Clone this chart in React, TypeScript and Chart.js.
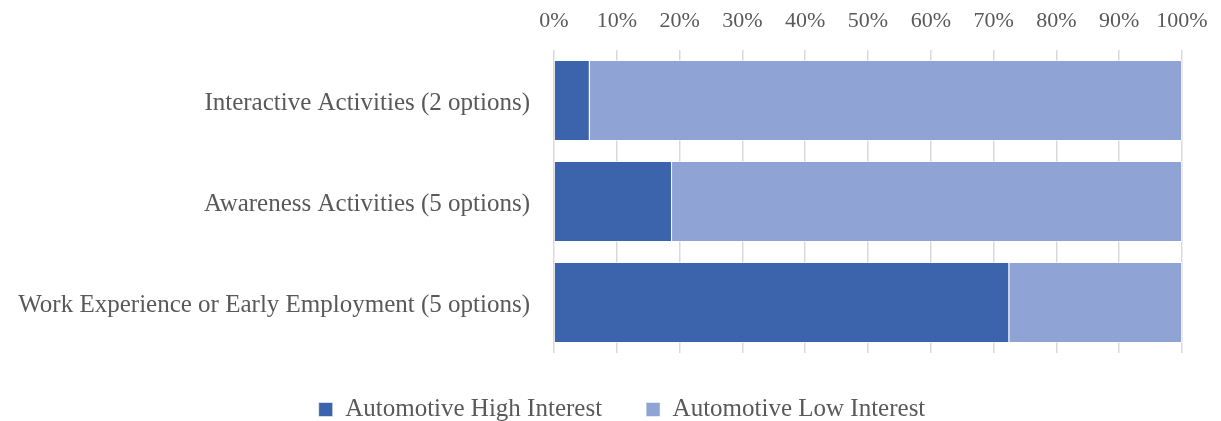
import React, { useEffect, useRef } from "react";
import { Chart, registerables } from "chart.js";

Chart.register(...registerables);

const categories = [
  "Interactive Activities (2 options)",
  "Awareness Activities (5 options)",
  "Work Experience or Early Employment (5 options)",
];
const highInterest = [5.7, 18.8, 72.5];
const lowInterest = [94.3, 81.2, 27.5];
const seriesNames = ["Automotive High Interest", "Automotive Low Interest"];
const xTicks = [0, 10, 20, 30, 40, 50, 60, 70, 80, 90, 100];

const FONT = "'Liberation Serif', 'Times New Roman', serif";
const TEXT = "#595959";

const shiftLegend = {
  id: "shiftLegend",
  afterLayout(chart: any) {
    if (chart.legend) chart.legend.left += 62;
  },
};

export default function App() {
  const ref = useRef<HTMLCanvasElement | null>(null);
  useEffect(() => {
    document.body.style.margin = "0";
    const canvas = ref.current;
    if (!canvas) return;
    const chart = new Chart(canvas, {
      type: "bar",
      data: {
        labels: categories,
        datasets: [
          {
            label: seriesNames[0],
            data: highInterest,
            backgroundColor: "#3C64AD",
            borderColor: "rgba(255,255,255,0.55)",
            borderWidth: 1,
          },
          {
            label: seriesNames[1],
            data: lowInterest,
            backgroundColor: "#8FA3D4",
            borderColor: "rgba(255,255,255,0.55)",
            borderWidth: 1,
          },
        ],
      },
      plugins: [shiftLegend],
      options: {
        indexAxis: "y",
        responsive: false,
        animation: false,
        layout: { padding: { left: 0, right: 39, top: 0, bottom: 0 } },
        datasets: { bar: { categoryPercentage: 1, barPercentage: 0.8 } },
        scales: {
          x: {
            position: "top",
            stacked: true,
            min: 0,
            max: 100,
            afterBuildTicks: (s: any) => {
              s.ticks = xTicks.map((v) => ({ value: v }));
            },
            afterFit: (s: any) => {
              s.height = 50;
              s.paddingRight = 0;
              s.paddingLeft = 0;
            },
            ticks: {
              callback: (v: any) => v + "%",
              color: TEXT,
              font: { family: FONT, size: 22 },
              padding: 16,
              maxRotation: 0,
            },
            grid: { color: "#d9d9d9", lineWidth: 1.5, drawTicks: false },
            border: { display: false },
          },
          y: {
            stacked: true,
            afterFit: (s: any) => {
              s.width = 554;
            },
            ticks: {
              color: TEXT,
              font: { family: FONT, size: 25 },
              padding: 16,
              labelOffset: 3,
            },
            grid: { display: false },
            border: { display: false },
          },
        },
        plugins: {
          legend: {
            position: "bottom",
            maxHeight: 68,
            labels: {
              color: TEXT,
              font: { family: FONT, size: 25 },
              boxWidth: 14,
              boxHeight: 14,
              padding: 44,
            },
          },
          tooltip: { enabled: false },
        },
      },
    });
    return () => chart.destroy();
  }, []);
  return (
    <div style={{ width: 1221, height: 421 }}>
      <canvas ref={ref} width={1221} height={421} />
    </div>
  );
}
